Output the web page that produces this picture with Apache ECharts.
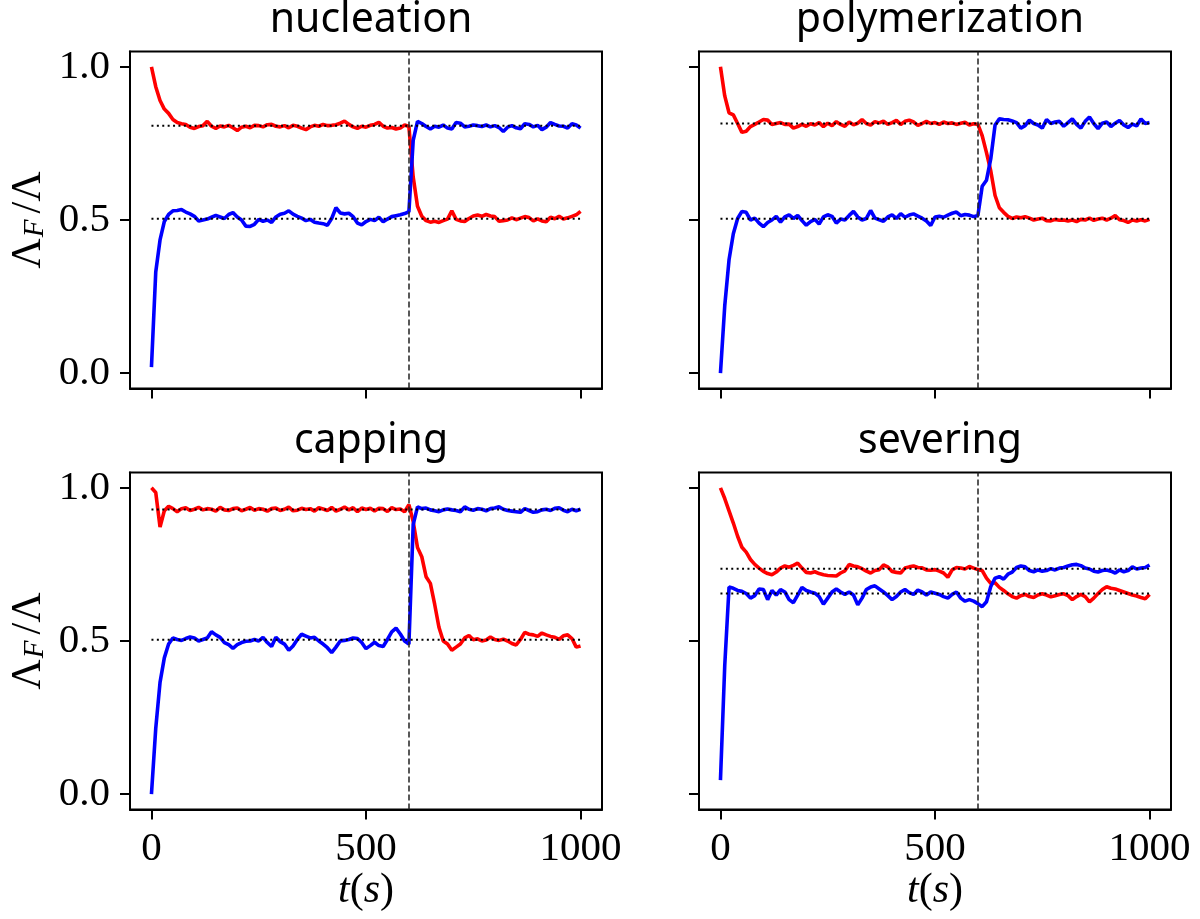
<!DOCTYPE html>
<html>
<head>
<meta charset="utf-8">
<script src="https://cdn.jsdelivr.net/npm/echarts@6/dist/echarts.min.js"></script>
<style>html,body{margin:0;padding:0;background:#fff}#c{width:1200px;height:919px}</style>
</head>
<body>
<div id="c"></div>
<script>
// time axis (s), shared by every series
const t = [];
for (let i = 0; i <= 100; i++) t.push(i * 10);

const titles = ['nucleation', 'polymerization', 'capping', 'severing'];
const xTicks = [0, 500, 1000];
const yTicks = [0, 0.5, 1.0];
const switchTime = 600;

// equilibrium levels (dotted lines): [upper, lower]
const nucLevels = [0.808, 0.504];
const polyLevels = [0.815, 0.504];
const capLevels = [0.929, 0.504];
const sevLevels = [0.736, 0.655];

const nucRed = [1.000,0.935,0.890,0.862,0.848,0.828,0.818,0.814,0.812,0.803,
0.799,0.805,0.808,0.822,0.806,0.799,0.807,0.804,0.809,0.801,
0.792,0.803,0.806,0.801,0.809,0.808,0.804,0.811,0.812,0.806,
0.804,0.808,0.801,0.809,0.806,0.800,0.795,0.804,0.809,0.806,
0.812,0.808,0.809,0.811,0.816,0.823,0.812,0.804,0.799,0.806,
0.803,0.809,0.812,0.819,0.806,0.800,0.802,0.797,0.800,0.810,
0.805,0.640,0.545,0.512,0.498,0.493,0.496,0.492,0.498,0.503,
0.530,0.502,0.497,0.495,0.505,0.513,0.516,0.512,0.518,0.513,
0.511,0.496,0.498,0.500,0.507,0.501,0.506,0.511,0.508,0.497,
0.504,0.497,0.494,0.509,0.504,0.512,0.503,0.507,0.512,0.517,0.528];

const nucBlue = [0.020,0.330,0.435,0.495,0.518,0.530,0.531,0.534,0.526,0.520,
0.512,0.497,0.500,0.503,0.509,0.515,0.510,0.505,0.518,0.524,
0.510,0.500,0.480,0.479,0.486,0.502,0.496,0.500,0.492,0.510,
0.519,0.522,0.530,0.519,0.512,0.506,0.498,0.502,0.493,0.490,
0.488,0.483,0.505,0.540,0.523,0.520,0.522,0.511,0.490,0.484,
0.495,0.502,0.498,0.509,0.494,0.503,0.511,0.514,0.517,0.521,
0.527,0.760,0.822,0.815,0.805,0.797,0.806,0.803,0.810,0.800,
0.797,0.818,0.816,0.804,0.806,0.810,0.808,0.805,0.810,0.804,
0.808,0.802,0.789,0.803,0.808,0.801,0.798,0.814,0.812,0.804,
0.809,0.795,0.803,0.818,0.812,0.807,0.806,0.800,0.814,0.810,0.800];

const polyRed = [1.000,0.905,0.850,0.843,0.815,0.786,0.790,0.805,0.812,0.820,
0.828,0.826,0.812,0.815,0.818,0.812,0.813,0.800,0.805,0.812,
0.806,0.814,0.810,0.818,0.805,0.816,0.808,0.821,0.812,0.806,
0.820,0.811,0.816,0.828,0.815,0.810,0.821,0.817,0.823,0.812,
0.818,0.825,0.812,0.822,0.826,0.820,0.809,0.815,0.822,0.815,
0.818,0.812,0.820,0.815,0.817,0.812,0.816,0.819,0.810,0.814,
0.812,0.775,0.720,0.660,0.580,0.540,0.525,0.512,0.505,0.510,
0.507,0.511,0.506,0.500,0.503,0.506,0.498,0.497,0.502,0.499,
0.500,0.497,0.500,0.495,0.502,0.500,0.506,0.499,0.503,0.506,
0.500,0.506,0.515,0.501,0.498,0.492,0.500,0.497,0.501,0.497,0.502];

const polyBlue = [0.000,0.220,0.370,0.455,0.505,0.528,0.525,0.500,0.506,0.490,
0.478,0.492,0.500,0.512,0.493,0.510,0.517,0.505,0.515,0.498,
0.483,0.495,0.502,0.487,0.510,0.517,0.512,0.490,0.503,0.500,
0.515,0.528,0.510,0.500,0.505,0.531,0.506,0.501,0.496,0.510,
0.517,0.505,0.521,0.509,0.516,0.520,0.513,0.506,0.497,0.482,
0.510,0.512,0.509,0.516,0.522,0.526,0.514,0.518,0.516,0.511,
0.515,0.610,0.630,0.700,0.810,0.830,0.828,0.827,0.823,0.818,
0.800,0.808,0.826,0.815,0.810,0.800,0.828,0.815,0.820,0.822,
0.806,0.818,0.830,0.812,0.800,0.822,0.836,0.815,0.798,0.816,
0.820,0.805,0.816,0.825,0.810,0.802,0.813,0.807,0.830,0.815,0.818];

const capRed = [1.000,0.985,0.872,0.925,0.940,0.932,0.922,0.932,0.935,0.926,
0.930,0.936,0.928,0.932,0.930,0.924,0.936,0.928,0.926,0.932,
0.934,0.925,0.930,0.936,0.927,0.932,0.930,0.924,0.932,0.934,
0.926,0.930,0.937,0.925,0.927,0.933,0.929,0.932,0.924,0.935,
0.931,0.926,0.936,0.924,0.930,0.937,0.928,0.935,0.922,0.934,
0.929,0.933,0.924,0.933,0.932,0.923,0.935,0.929,0.931,0.922,
0.945,0.890,0.805,0.775,0.710,0.688,0.620,0.545,0.500,0.490,
0.470,0.480,0.490,0.510,0.518,0.504,0.507,0.500,0.503,0.513,
0.505,0.502,0.506,0.500,0.492,0.487,0.505,0.528,0.522,0.520,
0.515,0.526,0.520,0.515,0.512,0.505,0.517,0.520,0.508,0.480,0.484];

const capBlue = [0.000,0.215,0.365,0.445,0.490,0.510,0.505,0.502,0.508,0.513,
0.510,0.500,0.505,0.510,0.530,0.520,0.512,0.495,0.488,0.476,
0.488,0.495,0.499,0.500,0.505,0.500,0.512,0.495,0.482,0.512,
0.498,0.490,0.470,0.484,0.505,0.522,0.516,0.510,0.512,0.500,
0.490,0.478,0.462,0.480,0.500,0.502,0.505,0.510,0.508,0.495,
0.475,0.485,0.496,0.485,0.482,0.505,0.530,0.542,0.523,0.500,
0.490,0.880,0.938,0.932,0.934,0.928,0.925,0.922,0.928,0.931,
0.928,0.926,0.922,0.938,0.930,0.927,0.932,0.930,0.925,0.932,
0.934,0.938,0.930,0.926,0.924,0.922,0.920,0.932,0.926,0.920,
0.922,0.928,0.930,0.926,0.933,0.935,0.927,0.922,0.930,0.925,0.930];

const sevRed = [1.000,0.965,0.925,0.885,0.842,0.806,0.790,0.766,0.750,0.738,
0.727,0.720,0.716,0.725,0.738,0.745,0.741,0.747,0.754,0.738,
0.724,0.722,0.726,0.720,0.716,0.714,0.713,0.712,0.722,0.729,
0.750,0.745,0.742,0.736,0.728,0.722,0.730,0.733,0.748,0.742,
0.727,0.724,0.722,0.738,0.742,0.745,0.740,0.739,0.732,0.731,
0.733,0.728,0.722,0.708,0.732,0.740,0.738,0.735,0.743,0.738,
0.733,0.730,0.705,0.688,0.690,0.675,0.665,0.654,0.645,0.640,
0.648,0.652,0.645,0.642,0.650,0.654,0.650,0.644,0.648,0.652,
0.654,0.648,0.635,0.645,0.652,0.645,0.628,0.640,0.655,0.668,
0.677,0.672,0.670,0.665,0.660,0.655,0.650,0.647,0.642,0.638,0.652];

const sevBlue = [0.046,0.420,0.676,0.672,0.665,0.662,0.655,0.640,0.648,0.670,
0.668,0.635,0.665,0.650,0.668,0.660,0.635,0.625,0.650,0.675,
0.665,0.660,0.656,0.645,0.620,0.640,0.660,0.670,0.660,0.652,
0.660,0.650,0.618,0.640,0.668,0.676,0.680,0.670,0.660,0.648,
0.635,0.645,0.660,0.668,0.658,0.652,0.666,0.660,0.650,0.660,
0.656,0.652,0.645,0.640,0.652,0.660,0.640,0.630,0.635,0.630,
0.622,0.612,0.628,0.678,0.705,0.710,0.702,0.718,0.725,0.740,
0.745,0.742,0.730,0.726,0.732,0.728,0.730,0.736,0.732,0.738,
0.740,0.745,0.749,0.750,0.746,0.738,0.735,0.728,0.725,0.730,
0.732,0.728,0.722,0.732,0.726,0.730,0.742,0.735,0.738,0.740,0.748];

const panels = [
  {red: nucRed, blue: nucBlue, levels: nucLevels},
  {red: polyRed, blue: polyBlue, levels: polyLevels},
  {red: capRed, blue: capBlue, levels: capLevels},
  {red: sevRed, blue: sevBlue, levels: sevLevels}
];

const gridPos = [
  {left: 130, top: 51.5, width: 472, height: 337},
  {left: 699, top: 51.5, width: 472, height: 337},
  {left: 130, top: 472.5, width: 472, height: 337},
  {left: 699, top: 472.5, width: 472, height: 337}
];

const SERIF = '"Liberation Serif", "DejaVu Serif", serif';
const SANS = '"Noto Sans", "DejaVu Sans", sans-serif';

const grid = [], xAxis = [], yAxis = [], series = [], title = [];
gridPos.forEach((g, k) => {
  grid.push(Object.assign({show: true, borderColor: '#000', borderWidth: 2, backgroundColor: '#fff', containLabel: false}, g));
  title.push({
    text: titles[k],
    left: g.left + g.width / 2,
    top: g.top - 57,
    textAlign: 'center',
    textStyle: {fontFamily: SANS, fontSize: 41, fontWeight: 'normal', color: '#000'}
  });
  const bottomRow = k >= 2, leftCol = (k % 2) === 0;
  xAxis.push({
    type: 'value', gridIndex: k, min: -50, max: 1050,
    axisLine: {show: true, onZero: false, lineStyle: {color: '#000', width: 2}},
    axisTick: {show: true, customValues: xTicks, length: 10, lineStyle: {color: '#000', width: 2}},
    axisLabel: {show: bottomRow, customValues: xTicks, margin: 19, color: '#000', fontFamily: SERIF, fontSize: 41,
      formatter: v => String(Math.round(v))},
    splitLine: {show: false},
    name: bottomRow ? '{i|t}{n|(}{i|s}{n|)}' : '',
    nameLocation: 'middle', nameGap: 54,
    nameTextStyle: {fontFamily: SERIF, fontSize: 42, color: '#000',
      rich: {i: {fontFamily: SERIF, fontSize: 42, fontStyle: 'italic', color: '#000'},
             n: {fontFamily: SERIF, fontSize: 42, color: '#000'}}}
  });
  yAxis.push({
    type: 'value', gridIndex: k, min: -0.05, max: 1.05,
    axisLine: {show: true, onZero: false, lineStyle: {color: '#000', width: 2}},
    axisTick: {show: true, customValues: yTicks, length: 10, lineStyle: {color: '#000', width: 2}},
    axisLabel: {show: leftCol, customValues: yTicks, margin: 20, color: '#000', fontFamily: SERIF, fontSize: 41,
      formatter: v => v.toFixed(1)},
    splitLine: {show: false},
    name: leftCol ? '{a|Λ}{s|F}{b|/Λ}' : '',
    nameLocation: 'middle', nameGap: 80, nameRotate: 90,
    nameTextStyle: {fontFamily: SERIF, fontSize: 42, color: '#000',
      rich: {a: {fontFamily: SERIF, fontSize: 42, color: '#000', lineHeight: 46, verticalAlign: 'bottom'},
             b: {fontFamily: SERIF, fontSize: 42, color: '#000', lineHeight: 46, verticalAlign: 'bottom', padding: [0, 0, 0, 4]},
             s: {fontFamily: SERIF, fontSize: 29, fontStyle: 'italic', color: '#000', lineHeight: 46, verticalAlign: 'bottom', padding: [16, 2, 0, 1]}}}
  });
  const p = panels[k];
  series.push({
    type: 'line', xAxisIndex: k, yAxisIndex: k, showSymbol: false, silent: true,
    data: t.map((x, i) => [x, p.red[i]]),
    lineStyle: {color: '#ff0000', width: 3.6}, itemStyle: {color: '#ff0000'}, z: 2
  });
  series.push({
    type: 'line', xAxisIndex: k, yAxisIndex: k, showSymbol: false, silent: true,
    data: t.map((x, i) => [x, p.blue[i]]),
    lineStyle: {color: '#0000ff', width: 3.6}, itemStyle: {color: '#0000ff'}, z: 3
  });
  p.levels.forEach(lv => {
    series.push({
      type: 'line', xAxisIndex: k, yAxisIndex: k, showSymbol: false, silent: true,
      data: [[t[0], lv], [t[t.length - 1], lv]],
      lineStyle: {color: '#000', width: 2, type: [2, 3.4]}, z: 4
    });
  });
  series.push({
    type: 'line', xAxisIndex: k, yAxisIndex: k, showSymbol: false, silent: true, data: [],
    markLine: {silent: true, symbol: ['none', 'none'], label: {show: false},
      lineStyle: {color: '#222', width: 1.5, type: [6, 3]},
      data: [{xAxis: switchTime}]},
    z: 5
  });
});

const chart = echarts.init(document.getElementById('c'), null, {renderer: 'canvas'});
chart.setOption({animation: false, backgroundColor: '#fff', title, grid, xAxis, yAxis, series});
</script>
</body>
</html>
